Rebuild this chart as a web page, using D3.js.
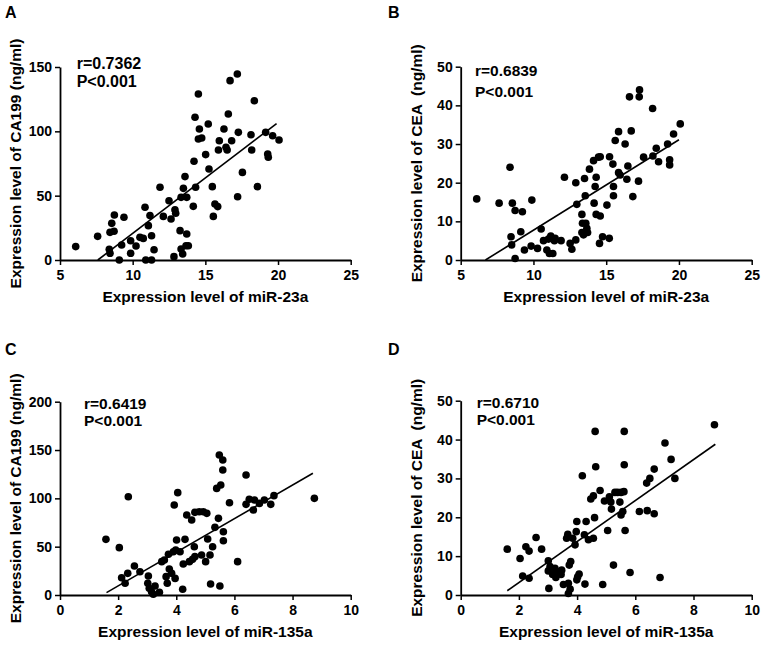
<!DOCTYPE html>
<html><head><meta charset="utf-8">
<script src="https://cdn.jsdelivr.net/npm/d3@7"></script>
<style>
body{margin:0;background:#fff}
svg text{font-family:Arial,"Liberation Sans",sans-serif;font-weight:bold;fill:#000}
</style>
</head><body>
<svg id="chart" width="765" height="646"></svg>
<script>
// ---- Panel A: miR-23a vs CA199 ----
const aX = [6.08,7.59,8.39,8.44,8.44,8.56,8.74,8.72,9.08,9.24,9.4,9.86,9.86,10.23,10.5,10.73,10.85,10.9,11.08,11.19,11.3,11.3,11.47,11.88,12.11,12.5,12.64,12.91,12.96,12.84,13.26,13.33,13.44,13.49,13.6,13.33,13.72,13.72,13.83,13.67,14.17,14.22,14.33,14.29,14.52,14.59,14.52,14.75,15.02,15.2,15.25,15.48,15.55,15.66,15.85,15.9,15.96,16.28,16.42,16.5,16.58,16.7,16.81,17.2,17.22,17.27,17.55,18.14,18.19,18.37,18.58,19.15,19.29,19.33,19.63,20.07];
const aY = [10.4,18.4,8.3,5.2,21.5,28.5,35,22.3,0,11.7,33.2,15,5.2,10.9,17.6,16.8,41,0,26.7,34.5,0,18.9,8,56.5,33.9,46.1,31.9,39.1,36.3,2.6,22.8,8.5,4.7,55.7,64.8,48.7,48.7,20.2,11.1,11.1,41.7,76.7,56.5,110.9,129,101.8,94,94.8,81.9,105.7,70.7,57,33.9,43.5,41.5,85.5,92.7,101.8,87.6,85.5,113.5,139.4,92.7,144.6,49.2,99.2,68.1,97.4,85.5,123.8,57,99.2,82.4,79.8,96.6,93.3];
const aFitX = [7.6,19.9], aFitY = [0,106];

// ---- Panel B: miR-23a vs CEA ----
const bX = [6.1,7.64,8.39,8.5,8.46,8.55,8.74,8.74,9.13,9.24,9.38,9.84,9.89,10.28,10.53,10.69,10.92,11.03,11.19,11.1,11.33,11.44,11.49,11.9,12.13,12.52,12.64,12.91,12.91,12.98,13.33,13.37,13.33,13.44,13.51,13.56,13.6,13.67,13.72,13.85,14.13,14.17,14.24,14.31,14.31,14.47,14.59,14.59,14.54,14.75,15.05,15.21,15.23,15.46,15.5,15.5,15.62,15.85,15.85,15.96,16.3,16.42,16.49,16.6,16.72,16.83,17.22,17.27,17.29,17.57,18.19,18.21,18.44,18.6,19.22,19.36,19.36,19.63,20.09];
const bY = [15.8,14.7,24,3.9,6,14.7,12.8,0.4,7.3,12.5,2.6,3.6,15.5,3,8,5,2.6,5.4,6.2,1.7,1.7,5,5.6,5,21.4,4.3,2.8,5.2,20,14.4,11.8,9.5,7.1,6.5,21.1,16.6,9.5,8.2,7.1,23.5,25.7,14.7,19,21.4,11.8,26.6,26.7,11.4,4.3,6,14.2,5.6,26.7,24.8,16.6,19,30.9,33.2,22.6,22,30,20.9,24.3,42.2,33.4,16.4,20.4,42.2,44,26.6,39.2,26.9,28.9,25.4,30,25.9,24.6,32.6,35.2];
const bFitX = [6.7,20], bFitY = [0,31.1];

// ---- Panel C: miR-135a vs CA199 ----
const cX = [1.58,2.04,2.12,2.24,2.33,2.35,2.56,2.75,3.04,3.02,3.07,3.15,3.21,3.27,3.42,3.5,3.59,3.65,3.69,3.73,3.76,3.84,3.9,3.93,3.96,3.98,4.01,4.05,4.13,4.22,4.24,4.3,4.36,4.45,4.53,4.56,4.62,4.64,4.64,4.79,4.87,4.93,5.05,5.01,5.08,5.16,5.18,5.25,5.33,5.39,5.45,5.48,5.5,5.53,5.6,5.6,5.62,5.62,5.83,6.11,6.4,6.4,6.51,6.65,6.69,6.86,7.03,7.25,7.36,8.75];
const cY = [57.6,49,17.9,12.1,22.4,101.7,30,24.1,19.7,12.1,6.9,3.4,0.7,9.3,2.8,34.5,36.2,19,12.1,42.1,26.9,22.4,44.8,93.1,17.2,46.6,56.9,105.9,44.8,5.9,32.1,57.6,82.8,34.5,77.6,36.9,50,39.7,85.5,86.2,41.4,86.2,84.5,34.5,57.9,41.4,11.4,50,70,110.3,79.3,144.8,9.3,113.8,139.7,129.3,65.5,56.2,95.5,34.5,124.1,93.8,99,87.9,98.3,94.8,98.3,93.8,102.8,100];
const cFitX = [1.6,8.7], cFitY = [2.4,126];

// ---- Panel D: miR-135a vs CEA ----
const dX = [1.6,2.04,2.13,2.24,2.35,2.35,2.59,2.78,3.01,3.03,3.01,3.07,3.16,3.24,3.27,3.36,3.45,3.47,3.53,3.64,3.68,3.7,3.7,3.73,3.76,3.78,3.85,3.93,3.97,3.99,3.99,4.02,4.07,4.18,4.25,4.31,4.27,4.39,4.47,4.56,4.56,4.6,4.62,4.64,4.79,4.88,4.94,5.05,5.11,5.16,5.18,5.25,5.3,5.39,5.47,5.51,5.51,5.57,5.61,5.62,5.62,5.65,5.82,6.14,6.39,6.41,6.5,6.65,6.65,6.85,7.02,7.23,7.36,8.72];
const dY = [11.8,9.4,4.9,12.4,11.3,4.3,14.8,11.8,8.8,1.7,6.2,7.3,5.3,6.9,4.5,6,5.3,6.4,2.7,14.6,15.6,0.4,3,7.7,1.5,8.6,14.6,12.9,16.3,18.9,3.9,4.7,5.4,30.7,15.5,18.9,2.8,14.2,24.7,14.6,25.5,19.9,42.1,33,26.9,2.7,24.2,16.6,25.3,23.9,22.1,7.7,26.4,26.4,23.9,26.4,20.6,21.5,26.6,33.5,42.1,16.6,5.8,21.5,28.8,21.7,30,20.9,32.4,4.5,39.1,34.9,30,43.8];
const dFitX = [1.6,8.75], dFitY = [1.1,38.8];

// ---- ticks, labels ----
const ticks23a = [5,10,15,20,25];
const ticks135a = [0,2,4,6,8,10];
const ticksCA199A = [0,50,100,150];
const ticksCA199C = [0,50,100,150,200];
const ticksCEA = [0,10,20,30,40,50];
const panelLetters = ["A","B","C","D"];
const rTexts = ["r=0.7362","r=0.6839","r=0.6419","r=0.6710"];
const pText = "P<0.001";
const xTitles = ["Expression level of miR-23a","Expression level of miR-23a","Expression level of miR-135a","Expression level of miR-135a"];
const yTitles = ["Expression level of CA199 (ng/ml)","Expression level of CEA  (ng/ml)","Expression level of CA199 (ng/ml)","Expression level of CEA  (ng/ml)"];

const svg = d3.select("#chart");

const panels = [
  {x:aX,y:aY,fx:aFitX,fy:aFitY,xt:ticks23a,yt:ticksCA199A,L:60,R:350.7,T:67,B:260,
   letter:[5,18],rPos:[76.7,69.3],pPos:[76.7,87.3],rSize:16,ytX:21,xtY:302},
  {x:bX,y:bY,fx:bFitX,fy:bFitY,xt:ticks23a,yt:ticksCEA,L:460.7,R:751.7,T:66.7,B:260,
   letter:[388,18],rPos:[475,76],pPos:[475,96.5],rSize:15.5,ytX:422,xtY:302},
  {x:cX,y:cY,fx:cFitX,fy:cFitY,xt:ticks135a,yt:ticksCA199C,L:60,R:350.7,T:401.7,B:595,
   letter:[5,355],rPos:[84,409],pPos:[84,425.7],rSize:15.5,ytX:21,xtY:636.5},
  {x:dX,y:dY,fx:dFitX,fy:dFitY,xt:ticks135a,yt:ticksCEA,L:460.7,R:751.7,T:400.7,B:595,
   letter:[388,355],rPos:[476.7,408.3],pPos:[476.7,425],rSize:15.5,ytX:422,xtY:636.5}
];

panels.forEach((p,i)=>{
  const xs = d3.scaleLinear().domain([p.xt[0], p.xt[p.xt.length-1]]).range([p.L,p.R]);
  const ys = d3.scaleLinear().domain([p.yt[0], p.yt[p.yt.length-1]]).range([p.B,p.T]);
  const g = svg.append("g");

  // axes
  const xa = g.append("g").attr("transform",`translate(0,${p.B})`)
    .call(d3.axisBottom(xs).tickValues(p.xt).tickSize(5).tickPadding(5).tickSizeOuter(0).tickFormat(d3.format("d")));
  const ya = g.append("g").attr("transform",`translate(${p.L},0)`)
    .call(d3.axisLeft(ys).tickValues(p.yt).tickSize(5).tickPadding(3).tickSizeOuter(0).tickFormat(d3.format("d")));
  [xa,ya].forEach(a=>{
    a.select(".domain").attr("stroke","#000").attr("stroke-width",1.8);
    a.selectAll(".tick line").attr("stroke","#000").attr("stroke-width",1.5);
    a.selectAll(".tick text").style("font-size","14px").style("font-family",'Arial,"Liberation Sans",sans-serif').style("font-weight","bold").attr("fill","#000");
  });

  // points
  g.append("g").selectAll("circle").data(p.x.map((v,k)=>[v,p.y[k]])).join("circle")
    .attr("cx",d=>xs(d[0])).attr("cy",d=>ys(d[1])).attr("r",3.8).attr("fill","#000");

  // fit line
  g.append("line")
    .attr("x1",xs(p.fx[0])).attr("y1",ys(p.fy[0]))
    .attr("x2",xs(p.fx[1])).attr("y2",ys(p.fy[1]))
    .attr("stroke","#000").attr("stroke-width",1.6);

  // annotations
  g.append("text").attr("x",p.rPos[0]).attr("y",p.rPos[1]).style("font-size",p.rSize+"px").text(rTexts[i]);
  g.append("text").attr("x",p.pPos[0]).attr("y",p.pPos[1]).style("font-size",p.rSize+"px").text(pText);

  // panel letter
  g.append("text").attr("x",p.letter[0]).attr("y",p.letter[1]).style("font-size","16px").text(panelLetters[i]);

  // axis titles
  g.append("text").attr("x",(p.L+p.R)/2).attr("y",p.xtY).attr("text-anchor","middle")
    .style("font-size","15.5px").text(xTitles[i]);
  g.append("text").attr("transform",`translate(${p.ytX},${(p.T+p.B)/2}) rotate(-90)`)
    .attr("text-anchor","middle").style("font-size","15.5px").style("white-space","pre").text(yTitles[i]);
});
</script>
</body></html>
